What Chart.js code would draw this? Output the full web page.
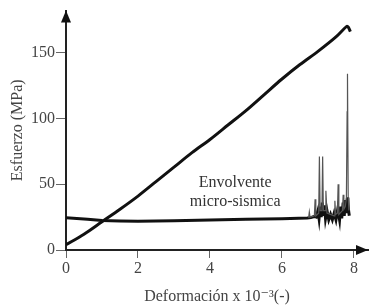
<!DOCTYPE html>
<html lang="es">
<head>
<meta charset="UTF-8">
<title>Esfuerzo vs deformación</title>
<style>
  html, body { margin: 0; padding: 0; background: #fff; }
  #wrap { width: 384px; height: 306px; }
</style>
<script src="https://cdn.jsdelivr.net/npm/chart.js"></script>
</head>
<body>
<div id="wrap"><canvas id="c"></canvas></div>
<script>
// Curva esfuerzo-deformación (deformación x 10^-3, esfuerzo MPa)
const stressDef = [0, 0.5, 1, 1.5, 2, 2.5, 3, 3.5, 4, 4.5, 5, 5.5, 6, 6.5, 7, 7.5, 7.8, 7.85, 7.9];
const stressVal = [4, 12, 21.5, 31, 41, 52, 63, 74, 84, 95, 106, 118, 130, 141, 151, 162, 170, 169, 166];

// Envolvente micro-sísmica (base con ruido)
const envDef = [0, 0.3, 0.6, 1, 1.5, 2, 3, 4, 5, 6, 6.7, 6.8, 6.9, 6.95, 7.0, 7.03, 7.06, 7.09, 7.12, 7.15, 7.18, 7.21, 7.25, 7.3, 7.35, 7.4, 7.45, 7.5, 7.55, 7.6, 7.63, 7.66, 7.7, 7.73, 7.76, 7.79, 7.82, 7.85, 7.87];
const envVal = [24.5, 24, 23.3, 22.5, 22, 21.8, 22.3, 22.8, 23.3, 23.8, 24.3, 24.6, 25.5, 25, 30, 24, 33, 25, 36, 26, 34, 24, 30, 23, 27, 23, 28, 23, 31, 23, 33, 24, 36, 26, 38, 28, 40, 30, 26];

// Picos de actividad
const spikeDef = [6.74, 6.76, 6.78, 6.9, 6.92, 6.94, 7.02, 7.04, 7.06, 7.11, 7.13, 7.15, 7.2, 7.22, 7.25, 7.45, 7.47, 7.49, 7.54, 7.56, 7.58, 7.68, 7.7, 7.72, 7.76, 7.79, 7.81, 7.82, 7.84, 7.86];
const spikeVal = [24.5, 29, 25, 26, 38.5, 26, 28, 71, 30, 30, 71, 30, 30, 45, 28, 26, 37.5, 27, 28, 50, 27, 30, 42, 31, 33, 40, 105, 134, 40, 30];

const xTicks = [0, 2, 4, 6, 8];
const yTicks = [0, 50, 100, 150];

const serif = '"Liberation Serif", "DejaVu Serif", serif';

const arrows = {
  id: 'arrows',
  afterDraw(chart) {
    const { ctx, chartArea: a } = chart;
    ctx.save();
    ctx.fillStyle = '#111';
    ctx.beginPath();
    ctx.moveTo(a.left, a.top);
    ctx.lineTo(a.left - 5, a.top + 12);
    ctx.lineTo(a.left + 5, a.top + 12);
    ctx.closePath();
    ctx.fill();
    ctx.beginPath();
    ctx.moveTo(a.right, a.bottom);
    ctx.lineTo(a.right - 12, a.bottom - 5);
    ctx.lineTo(a.right - 12, a.bottom + 5);
    ctx.closePath();
    ctx.fill();
    // etiqueta
    const xs = chart.scales.x, ys = chart.scales.y;
    ctx.fillStyle = '#333';
    ctx.font = '16px ' + serif;
    ctx.textAlign = 'center';
    ctx.textBaseline = 'middle';
    ctx.fillText('Envolvente', xs.getPixelForValue(4.7), ys.getPixelForValue(51));
    ctx.fillText('micro-sismica', xs.getPixelForValue(4.7), ys.getPixelForValue(37));
    ctx.restore();
  }
};

new Chart(document.getElementById('c'), {
  type: 'scatter',
  data: {
    datasets: [
      {
        data: spikeDef.map((x, i) => ({ x, y: spikeVal[i] })),
        showLine: true, borderColor: '#555', borderWidth: 1.2, pointRadius: 0, tension: 0
      },
      {
        data: envDef.map((x, i) => ({ x, y: envVal[i] })),
        showLine: true, borderColor: '#111', borderWidth: 3, pointRadius: 0, tension: 0
      },
      {
        data: stressDef.map((x, i) => ({ x, y: stressVal[i] })),
        showLine: true, borderColor: '#111', borderWidth: 3, pointRadius: 0, tension: 0.3
      }
    ]
  },
  options: {
    responsive: true,
    maintainAspectRatio: false,
    animation: false,
    layout: { padding: { left: 8, right: 16, top: 7, bottom: 0 } },
    plugins: { legend: { display: false }, tooltip: { enabled: false } },
    scales: {
      x: {
        type: 'linear', min: 0, max: 8.39,
        afterBuildTicks: s => { s.ticks = xTicks.map(v => ({ value: v })); },
        afterFit: s => { s.height = 56; },
        grid: { display: true, drawOnChartArea: false, drawTicks: true, tickLength: 8, color: '#666', lineWidth: 1 },
        border: { display: true, color: '#222', width: 2 },
        ticks: { color: '#444', font: { family: serif, size: 16 }, padding: 1, maxRotation: 0 },
        title: { display: true, text: 'Deformación x 10⁻³(-)', color: '#444', font: { family: serif, size: 16 }, padding: { top: 0, bottom: 0 } }
      },
      y: {
        type: 'linear', min: 0, max: 182,
        afterBuildTicks: s => { s.ticks = yTicks.map(v => ({ value: v })); },
        afterFit: s => { s.width = 58; },
        grid: { display: true, drawOnChartArea: false, drawTicks: true, tickLength: 10, color: '#666', lineWidth: 1 },
        border: { display: true, color: '#222', width: 2 },
        ticks: { color: '#444', font: { family: serif, size: 16 }, padding: 1 },
        title: { display: true, text: 'Esfuerzo (MPa)', color: '#444', font: { family: serif, size: 16 }, padding: { top: 0, bottom: 2 } }
      }
    }
  },
  plugins: [arrows]
});
</script>
</body>
</html>
